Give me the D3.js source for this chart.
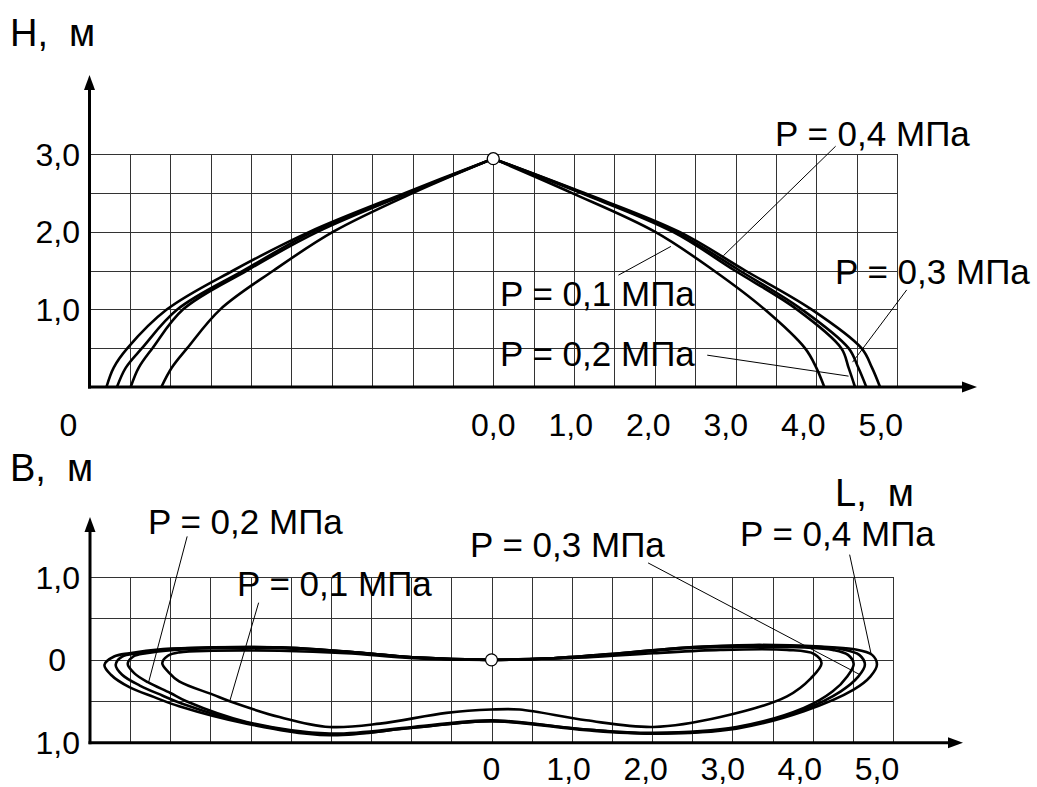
<!DOCTYPE html>
<html>
<head>
<meta charset="utf-8">
<script src="https://cdn.jsdelivr.net/npm/d3@7"></script>
<style>
  body { margin: 0; background: #fff; }
  svg { display: block; font-family: "Liberation Sans", Arial, sans-serif; }
  .grid line { stroke: #333; stroke-width: 1; shape-rendering: crispEdges; }
  .grid path { display: none; }
  .axis { stroke: #000; stroke-width: 3; }
  .curve { fill: none; stroke: #000; stroke-width: 2.6; stroke-linejoin: round; }
  .leader { stroke: #000; stroke-width: 1; }
  text { fill: #000; white-space: pre; }
</style>
</head>
<body>
<svg id="chart" width="1037" height="787"></svg>
<script>
// ---- data: side profile H(L), one array of L per pressure, shared H levels
const hLevels = [0, 0.25, 0.5, 1.0, 1.5, 2.0, 2.5, 2.94];
const sideLeft01 = [-4.11, -3.98, -3.79, -3.38, -2.72, -1.98, -0.99, 0];
const sideLeft02 = [-4.49, -4.39, -4.22, -3.84, -3.05, -2.17, -1.04, 0];
const sideLeft03 = [-4.66, -4.55, -4.35, -3.91, -3.09, -2.23, -1.06, 0];
const sideLeft04 = [-4.79, -4.70, -4.53, -4.04, -3.22, -2.27, -1.09, 0];
const sideRight01 = [4.10, 4.00, 3.86, 3.36, 2.73, 2.00, 0.97, 0];
const sideRight02 = [4.48, 4.40, 4.31, 3.76, 2.99, 2.22, 1.08, 0];
const sideRight03 = [4.62, 4.52, 4.40, 3.82, 3.05, 2.25, 1.10, 0];
const sideRight04 = [4.79, 4.69, 4.56, 3.94, 3.12, 2.30, 1.12, 0];

// ---- data: plan outline [L, B], closed loop per pressure
const planP01 = [[0, 0], [-0.98, 0.02], [-1.81, 0.08], [-2.64, 0.11], [-3.47, 0.11], [-3.89, 0.09], [-4.03, 0.05], [-4.10, -0.04],
  [-4.02, -0.15], [-3.89, -0.26], [-3.47, -0.42], [-3.26, -0.50], [-2.64, -0.69], [-2.02, -0.81], [-1.39, -0.77], [-0.56, -0.64],
  [0, -0.60], [0.35, -0.60], [1.18, -0.73], [2.02, -0.81], [2.85, -0.69], [3.68, -0.44], [3.98, -0.22], [4.11, -0.04],
  [4.02, 0.07], [3.68, 0.12], [2.85, 0.12], [2.02, 0.08], [1.18, 0.03], [0.4, 0.01]];
const planP02 = [[0, 0], [-0.98, 0.03], [-1.81, 0.10], [-2.64, 0.14], [-3.47, 0.14], [-3.95, 0.12], [-4.30, 0.08], [-4.46, 0.04],
  [-4.53, -0.05], [-4.45, -0.16], [-4.28, -0.27], [-4.0, -0.40], [-3.8, -0.50], [-3.05, -0.75], [-2.02, -0.89], [-0.98, -0.81],
  [0, -0.73], [1.18, -0.84], [2.02, -0.88], [3.05, -0.81], [3.89, -0.58], [4.25, -0.38], [4.43, -0.20], [4.51, -0.05],
  [4.44, 0.06], [4.25, 0.12], [3.9, 0.15], [3.26, 0.16], [2.43, 0.14], [1.6, 0.07], [0.77, 0.02]];
const planP03 = [[0, 0], [-0.98, 0.03], [-1.81, 0.10], [-2.64, 0.15], [-3.47, 0.15], [-4.09, 0.12], [-4.40, 0.08], [-4.60, 0.04],
  [-4.68, -0.06], [-4.60, -0.18], [-4.38, -0.31], [-4.1, -0.43], [-3.85, -0.53], [-3.05, -0.76], [-2.02, -0.90], [-0.98, -0.82],
  [0, -0.74], [1.18, -0.84], [2.02, -0.89], [3.05, -0.82], [3.89, -0.60], [4.35, -0.38], [4.57, -0.20], [4.65, -0.06],
  [4.58, 0.06], [4.35, 0.13], [4.0, 0.16], [3.26, 0.17], [2.43, 0.15], [1.6, 0.08], [0.77, 0.02]];
const planP04 = [[0, 0], [-0.98, 0.03], [-1.81, 0.10], [-2.64, 0.15], [-3.47, 0.15], [-4.09, 0.13], [-4.51, 0.08], [-4.70, 0.04],
  [-4.82, -0.06], [-4.74, -0.18], [-4.51, -0.33], [-4.2, -0.45], [-3.89, -0.56], [-3.05, -0.77], [-2.02, -0.91], [-0.98, -0.82],
  [0, -0.74], [1.18, -0.85], [2.02, -0.89], [3.05, -0.83], [3.89, -0.62], [4.51, -0.36], [4.72, -0.20], [4.80, -0.06],
  [4.74, 0.06], [4.5, 0.13], [4.1, 0.16], [3.26, 0.18], [2.43, 0.15], [1.6, 0.08], [0.77, 0.02]];

// tick labels
const topTickVals = [0, 1, 2, 3, 4, 5];
const topTickText = ['0,0', '1,0', '2,0', '3,0', '4,0', '5,0'];
const botTickText = ['0', '1,0', '2,0', '3,0', '4,0', '5,0'];
const hTickVals = [3, 2, 1];
const hTickText = ['3,0', '2,0', '1,0'];
const bTickVals = [1, 0, -1];
const bTickText = ['1,0', '0', '1,0'];
const pressures = ['P = 0,1 МПа', 'P = 0,2 МПа', 'P = 0,3 МПа', 'P = 0,4 МПа'];

const side = [
  { left: sideLeft01, right: sideRight01 },
  { left: sideLeft02, right: sideRight02 },
  { left: sideLeft03, right: sideRight03 },
  { left: sideLeft04, right: sideRight04 }
];
const plan = [planP01, planP02, planP03, planP04];

const svg = d3.select('#chart');

// scales
const xTop = d3.scaleLinear().domain([-5, 5]).range([89.5, 897]);
const yTop = d3.scaleLinear().domain([0, 3]).range([387, 154]);
const xBot = d3.scaleLinear().domain([-5, 5]).range([90, 893]);
const yBot = d3.scaleLinear().domain([-1, 1]).range([742.7, 577]);
// printed labels drift a little left of the grid in the original
const labTop = d3.scaleLinear().domain([0, 5]).range([xTop(0), xTop(4.8)]);
const labBot = d3.scaleLinear().domain([0, 5]).range([xBot(0), xBot(4.8)]);

const gridL = d3.range(-4.5, 5.01, 0.5);

function drawGrid(x, y, yMin, yMax, gridY) {
  svg.append('g').attr('class', 'grid')
    .attr('transform', `translate(0,${y(yMin)})`)
    .call(d3.axisBottom(x).tickValues(gridL).tickSize(-(y(yMin) - y(yMax))).tickFormat(''));
  svg.append('g').attr('class', 'grid')
    .attr('transform', `translate(${x(-5)},0)`)
    .call(d3.axisLeft(y).tickValues(gridY).tickSize(-(x(5) - x(-5))).tickFormat(''));
}

function drawAxes(x0, y0, yTip, xTip) {
  svg.append('line').attr('class', 'axis').attr('x1', x0).attr('y1', y0 + 1.5).attr('x2', x0).attr('y2', yTip + 10);
  svg.append('path').attr('d', `M${x0},${yTip} l-5.5,15 l11,0 z`);
  svg.append('line').attr('class', 'axis').attr('x1', x0 - 1.5).attr('y1', y0).attr('x2', xTip - 10).attr('y2', y0);
  svg.append('path').attr('d', `M${xTip},${y0} l-15,-5.5 l0,11 z`);
}

// ---------- top: side view
drawGrid(xTop, yTop, 0, 3, [0.5, 1, 1.5, 2, 2.5, 3]);
drawAxes(xTop(-5), yTop(0), 75, 977);

const lineTop = d3.line()
  .x(d => xTop(d[0]))
  .y(d => yTop(d[1]))
  .curve(d3.curveCatmullRom.alpha(0.5));

side.forEach(s => {
  ['left', 'right'].forEach(k => {
    svg.append('path').attr('class', 'curve')
      .attr('d', lineTop(hLevels.map((h, i) => [s[k][i], h])));
  });
});

svg.append('circle')
  .attr('cx', xTop(0)).attr('cy', yTop(hLevels[hLevels.length - 1]))
  .attr('r', 6).attr('fill', '#fff').attr('stroke', '#000').attr('stroke-width', 1.3);

// ---------- bottom: plan view
drawGrid(xBot, yBot, -1, 1, [-0.5, 0, 0.5, 1]);
drawAxes(xBot(-5), yBot(-1), 517, 963);

const lineBot = d3.line()
  .x(d => xBot(d[0]))
  .y(d => yBot(d[1]))
  .curve(d3.curveCatmullRomClosed.alpha(0.5));

plan.forEach(p => {
  svg.append('path').attr('class', 'curve').attr('d', lineBot(p));
});

svg.append('circle')
  .attr('cx', xBot(0)).attr('cy', yBot(0))
  .attr('r', 6).attr('fill', '#fff').attr('stroke', '#000').attr('stroke-width', 1.3);

// ---------- text
const txt = (x, y, s, size, anchor) => svg.append('text')
  .attr('x', x).attr('y', y).attr('font-size', size)
  .attr('text-anchor', anchor || 'start').text(s);

txt(10, 46, 'H,  м', 38);
txt(10, 481, 'B,  м', 38);
txt(835, 506, 'L,  м', 38);

hTickVals.forEach((v, i) => txt(80, yTop(v) + 11.5, hTickText[i], 32, 'end'));
bTickVals.forEach((v, i) => txt(v === 0 ? 66 : 80, yBot(v) + 11.5, bTickText[i], 32, 'end'));
topTickVals.forEach((v, i) => txt(labTop(v), 436, topTickText[i], 32, 'middle'));
topTickVals.forEach((v, i) => txt(labBot(v), 780, botTickText[i], 32, 'middle'));
txt(xTop(-5) - 21, 436, '0', 32, 'middle');

// leader labels: text anchor (left/baseline) and leader ends, in data units
const topNotes = [
  { p: 0, tx: 500, ty: 306, from: [1.55, 1.44], to: [2.2, 1.81] },
  { p: 1, tx: 500, ty: 366, from: [2.65, 0.41], to: [4.40, 0.14] },
  { p: 2, tx: 835, ty: 284, from: [5.12, 1.25], to: [4.45, 0.32] },
  { p: 3, tx: 775, ty: 146, from: [4.24, 3.10], to: [2.85, 1.69] }
];
const botNotes = [
  { p: 0, tx: 237, ty: 596, from: [-2.90, 0.69], to: [-3.26, -0.50] },
  { p: 1, tx: 148, ty: 534, from: [-3.79, 1.49], to: [-4.27, -0.27] },
  { p: 2, tx: 470, ty: 557, from: [1.95, 1.17], to: [4.59, -0.18] },
  { p: 3, tx: 740, ty: 546, from: [4.46, 1.27], to: [4.73, 0.06] }
];

topNotes.forEach(n => {
  svg.append('line').attr('class', 'leader')
    .attr('x1', xTop(n.from[0])).attr('y1', yTop(n.from[1]))
    .attr('x2', xTop(n.to[0])).attr('y2', yTop(n.to[1]));
  txt(n.tx, n.ty, pressures[n.p], 35);
});
botNotes.forEach(n => {
  svg.append('line').attr('class', 'leader')
    .attr('x1', xBot(n.from[0])).attr('y1', yBot(n.from[1]))
    .attr('x2', xBot(n.to[0])).attr('y2', yBot(n.to[1]));
  txt(n.tx, n.ty, pressures[n.p], 35);
});
</script>
</body>
</html>
